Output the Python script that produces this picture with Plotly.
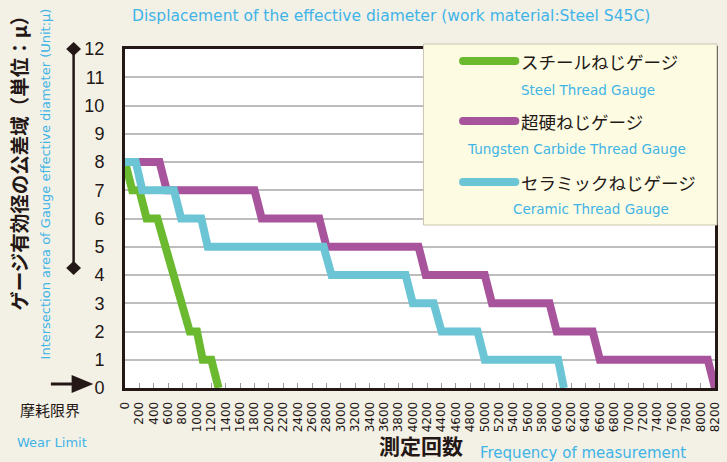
import plotly.graph_objects as go

# ---- data ----
steel_x = [0, 100, 200, 300, 450, 900, 1000, 1080, 1200, 1300]
steel_y = [8, 7, 7, 6, 6, 2, 2, 1, 1, 0]

carbide_x = [0, 480, 580, 1800, 1900, 2700, 2800, 4080, 4180, 5000, 5100, 5900, 6000, 6500, 6600, 8100, 8200]
carbide_y = [8, 8, 7, 7, 6, 6, 5, 5, 4, 4, 3, 3, 2, 2, 1, 1, 0]

ceramic_x = [0, 150, 240, 680, 780, 1060, 1150, 2760, 2870, 3900, 4000, 4290, 4400, 4900, 5000, 6020, 6100]
ceramic_y = [8, 8, 7, 7, 6, 6, 5, 5, 4, 4, 3, 3, 2, 2, 1, 1, 0]

x_ticks = list(range(0, 8201, 200))
x_tick_labels = [str(v) for v in x_ticks]
y_ticks = list(range(0, 13))

series_names_jp = ["スチールねじゲージ", "超硬ねじゲージ", "セラミックねじゲージ"]
series_names_en = ["Steel Thread Gauge", "Tungsten Carbide Thread Gauge", "Ceramic Thread Gauge"]

GREEN = "#6ab92f"
MAGENTA = "#a8549c"
CYAN = "#6cc5d5"
BLUE_TXT = "#3fb4e6"
DARK = "#231815"
BG = "#f3f0e6"

W, H = 727, 462
L, R, T, B = 125, 5, 49, 74
PW, PH = W - L - R, H - T - B


def px(xp):
    return (xp - L) / PW


def py(yp):
    return (H - B - yp) / PH


fig = go.Figure()
fig.add_trace(go.Scatter(x=carbide_x, y=carbide_y, mode="lines",
                         line=dict(color=MAGENTA, width=8), name=series_names_jp[1]))
fig.add_trace(go.Scatter(x=steel_x, y=steel_y, mode="lines",
                         line=dict(color=GREEN, width=8), name=series_names_jp[0]))
fig.add_trace(go.Scatter(x=ceramic_x, y=ceramic_y, mode="lines",
                         line=dict(color=CYAN, width=8), name=series_names_jp[2]))

shapes = []
# legend box
shapes.append(dict(type="rect", xref="paper", yref="paper",
                   x0=px(427), x1=px(724), y0=py(225), y1=py(44),
                   fillcolor="#fdfbe2", line=dict(color="#c9c4b2", width=1), layer="above"))
leg_y = [61, 121, 182]
leg_cols = [GREEN, MAGENTA, CYAN]
for yy, c in zip(leg_y, leg_cols):
    shapes.append(dict(type="line", xref="paper", yref="paper",
                       x0=px(467), x1=px(520), y0=py(yy), y1=py(yy),
                       line=dict(color=c, width=8), layer="above"))
    for cx in (467, 520):
        shapes.append(dict(type="circle", xref="paper", yref="paper",
                           x0=px(cx - 4), x1=px(cx + 4), y0=py(yy + 4), y1=py(yy - 4),
                           fillcolor=c, line=dict(width=0), layer="above"))

# vertical bar with diamonds
shapes.append(dict(type="line", xref="paper", yref="paper",
                   x0=px(73), x1=px(73), y0=py(49), y1=py(268),
                   line=dict(color=DARK, width=2.5)))
for cy in (49, 268):
    shapes.append(dict(type="path", xref="paper", yref="paper",
                       path=f"M {px(73)},{py(cy-7)} L {px(80.5)},{py(cy)} L {px(73)},{py(cy+7)} L {px(65.5)},{py(cy)} Z",
                       fillcolor=DARK, line=dict(color=DARK, width=0)))
# arrow at zero
shapes.append(dict(type="line", xref="paper", yref="paper",
                   x0=px(50), x1=px(74), y0=py(384), y1=py(384),
                   line=dict(color=DARK, width=3)))
shapes.append(dict(type="path", xref="paper", yref="paper",
                   path=f"M {px(71)},{py(375)} L {px(93)},{py(384)} L {px(71)},{py(393)} Z",
                   fillcolor=DARK, line=dict(color=DARK, width=0)))

JP = "Noto Sans CJK JP"
EN = "DejaVu Sans"
ann = []
# title
ann.append(dict(text="Displacement of the effective diameter (work material:Steel S45C)",
                x=px(130), y=py(16), xanchor="left", yanchor="middle",
                font=dict(family=EN, size=15.5, color=BLUE_TXT)))
# y titles
ann.append(dict(text="ゲージ有効径の公差域（単位：μ）", textangle=-90,
                x=px(17), y=py(313), xanchor="center", yanchor="bottom",
                font=dict(family=JP, size=19.5, color=DARK, weight="bold")))
ann.append(dict(text="Intersection area of Gauge effective diameter (Unit:μ)", textangle=-90,
                x=px(45), y=py(361), xanchor="center", yanchor="bottom",
                font=dict(family=EN, size=13, color=BLUE_TXT)))
# wear limit
ann.append(dict(text="摩耗限界", x=px(49), y=py(409), xanchor="center", yanchor="middle",
                font=dict(family=JP, size=15, color=DARK)))
ann.append(dict(text="Wear Limit", x=px(14), y=py(442), xanchor="left", yanchor="middle",
                font=dict(family=EN, size=13, color=BLUE_TXT)))
# x titles
ann.append(dict(text="測定回数", x=px(425), y=py(445), xanchor="center", yanchor="middle",
                font=dict(family=JP, size=21, color=DARK, weight="bold")))
ann.append(dict(text="Frequency of measurement", x=px(588), y=py(453), xanchor="center", yanchor="middle",
                font=dict(family=EN, size=15, color=BLUE_TXT)))
# legend texts
en_cx = [593, 582, 597]
en_y = [90, 149, 209]
for jp, en, yy, ecx, ey in zip(series_names_jp, series_names_en, leg_y, en_cx, en_y):
    ann.append(dict(text=jp, x=px(524), y=py(yy), xanchor="left", yanchor="middle",
                    font=dict(family=JP, size=17.5, color=DARK)))
    ann.append(dict(text=en, x=px(ecx), y=py(ey), xanchor="center", yanchor="middle",
                    font=dict(family=EN, size=13.5, color=BLUE_TXT)))
for a in ann:
    a.update(xref="paper", yref="paper", showarrow=False)

fig.update_layout(
    width=W, height=H,
    margin=dict(l=L, r=R, t=T, b=B, pad=0),
    paper_bgcolor=BG, plot_bgcolor="white",
    showlegend=False,
    shapes=shapes, annotations=ann,
    xaxis=dict(range=[0, 8200], tickvals=x_ticks, ticktext=x_tick_labels,
               tickangle=-90, ticks="inside", ticklen=5, tickcolor="#9a9a9a", tickwidth=1,
               showgrid=False, zeroline=False,
               showline=True, linecolor=DARK, linewidth=3, mirror=True,
               tickfont=dict(family="DejaVu Sans", size=12, color=DARK),
               ticklabelstandoff=6),
    yaxis=dict(range=[0, 12], tickvals=y_ticks, ticks="",
               showgrid=True, gridcolor="#bdbdbd", gridwidth=1.5, zeroline=False,
               showline=True, linecolor=DARK, linewidth=3, mirror=True,
               tickfont=dict(family="Liberation Sans", size=18, color=DARK),
               ticklabelstandoff=14),
)

fig.write_html("out.html", config={"displayModeBar": False},
               post_script="document.body.style.margin='0';document.body.style.background='%s';" % BG)
